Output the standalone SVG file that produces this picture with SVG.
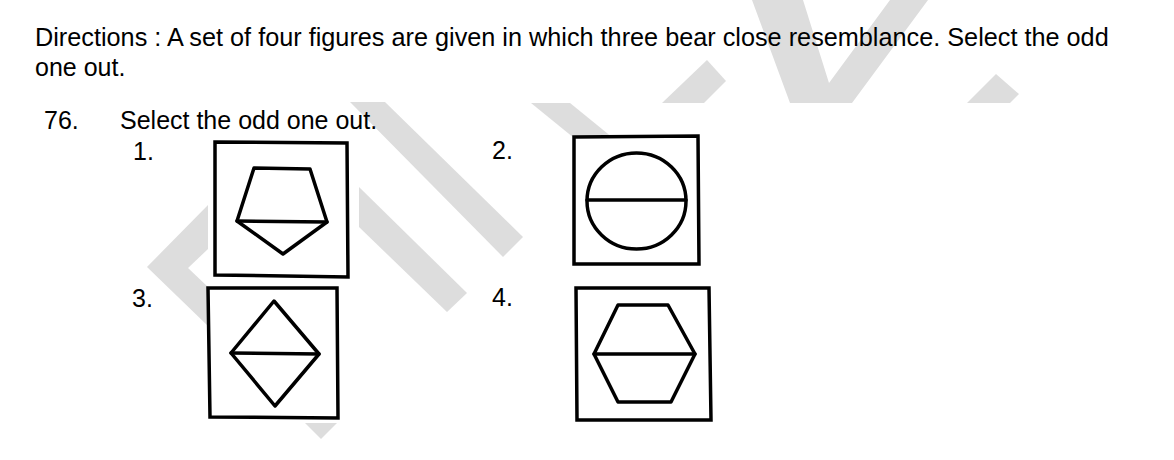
<svg xmlns="http://www.w3.org/2000/svg" width="1174" height="460" viewBox="0 0 1174 460">
<style>
  .wm { fill: #dddddd; stroke: none; }
  .txt { font-family: "Liberation Sans", Arial, sans-serif; font-size: 25px; fill: #000; }
  .box { fill: #ffffff; stroke: #000; stroke-width: 3.5; stroke-linejoin: miter; }
  .shp { fill: none; stroke: #000; stroke-width: 3.5; stroke-linejoin: round; stroke-linecap: round; }
</style>
<rect x="0" y="0" width="1174" height="460" fill="#ffffff"/>
<g id="watermark">
  <polygon class="wm" points="208,205 147,267 208,326 208,287 188,268 208,249"/>
  <polygon class="wm" points="350,102 385,102 523,237 503,257"/>
  <polygon class="wm" points="359,187 467,293 447,312 359,227"/>
  <polygon class="wm" points="531,103 570,103 629,151 590,151"/>
  <polygon class="wm" points="662,103 707,60 726,81 704,103"/>
  <polygon class="wm" points="752,0 803,0 829,83 890,0 928,0 852,103 790,103"/>
  <polygon class="wm" points="967,103 996,74 1019,94 1010,103"/>
  <polygon class="wm" points="305,423 337,423 321,439"/>
</g>
<g id="texts">
  <text class="txt" x="35" y="46" style="font-size:25.25px">Directions : A set of four figures are given in which three bear close resemblance. Select the odd</text>
  <text class="txt" x="35" y="76">one out.</text>
  <text class="txt" x="44" y="129">76.</text>
  <text class="txt" x="120" y="129">Select the odd one out.</text>
  <text class="txt" x="133" y="160">1.</text>
  <text class="txt" x="492" y="159">2.</text>
  <text class="txt" x="132" y="307">3.</text>
  <text class="txt" x="492" y="306">4.</text>
</g>
<g id="figure1">
  <polygon class="box" points="215,142 347,143 348,277 215,275"/>
  <polygon class="shp" points="254,168 310,169 327,222 283,254 237,221"/>
  <line class="shp" x1="237" y1="221" x2="327" y2="222"/>
</g>
<g id="figure2">
  <polygon class="box" points="574,137 698,136 699,264 574,264"/>
  <ellipse class="shp" cx="636.5" cy="201" rx="49.5" ry="48"/>
  <line class="shp" x1="587" y1="200" x2="686" y2="200" stroke-width="2.5"/>
</g>
<g id="figure3">
  <polygon class="box" points="208,288 337,288 338,418 210,417"/>
  <polygon class="shp" points="274,301 319,354 275,406 231,353"/>
  <line class="shp" x1="231" y1="353" x2="319" y2="354"/>
</g>
<g id="figure4">
  <polygon class="box" points="576,288 709,288 711,420 577,420"/>
  <polygon class="shp" points="618,305 668,305 695,354 671,402 618,402 594,354" stroke-width="4"/>
  <line class="shp" x1="594" y1="354" x2="695" y2="354" stroke-width="4.5"/>
</g>
</svg>
